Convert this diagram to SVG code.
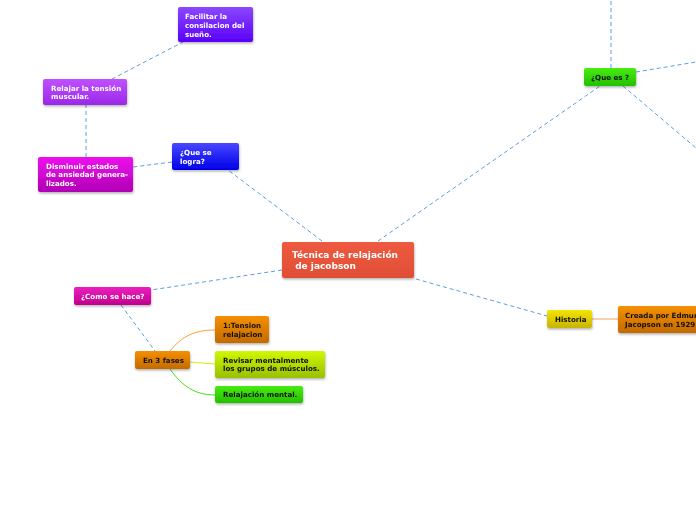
<svg xmlns="http://www.w3.org/2000/svg" width="696" height="520" viewBox="0 0 696 520">
<style>
.t{font-family:"DejaVu Sans",Verdana,sans-serif;font-weight:bold;font-size:7.1px}
.w{fill:#fff}.k{fill:#111}
.c{fill:none;stroke:#5a9ee0;stroke-width:1;stroke-dasharray:4,3}
</style>
<defs>
<filter id="sh" x="-10%" y="-10%" width="130%" height="150%"><feDropShadow dx="0.5" dy="1.5" stdDeviation="1" flood-color="#000" flood-opacity="0.3"/></filter>
<linearGradient id="gRed" x1="0" y1="0" x2="0" y2="1"><stop offset="0" stop-color="#ee5a40"/><stop offset="1" stop-color="#e04e36"/></linearGradient>
<linearGradient id="gBlue" x1="0" y1="0" x2="0" y2="1"><stop offset="0" stop-color="#4848ff"/><stop offset="1" stop-color="#0000e8"/></linearGradient>
<linearGradient id="gViolet" x1="0" y1="0" x2="0" y2="1"><stop offset="0" stop-color="#8a48ff"/><stop offset="1" stop-color="#5a00f8"/></linearGradient>
<linearGradient id="gPurple" x1="0" y1="0" x2="0" y2="1"><stop offset="0" stop-color="#c050ff"/><stop offset="1" stop-color="#9a28e8"/></linearGradient>
<linearGradient id="gMag" x1="0" y1="0" x2="0" y2="1"><stop offset="0" stop-color="#ee10ee"/><stop offset="1" stop-color="#b000b4"/></linearGradient>
<linearGradient id="gPink" x1="0" y1="0" x2="0" y2="1"><stop offset="0" stop-color="#ec20c0"/><stop offset="1" stop-color="#c0008c"/></linearGradient>
<linearGradient id="gOrange" x1="0" y1="0" x2="0" y2="1"><stop offset="0" stop-color="#f49000"/><stop offset="1" stop-color="#c46a00"/></linearGradient>
<linearGradient id="gLime" x1="0" y1="0" x2="0" y2="1"><stop offset="0" stop-color="#d0f800"/><stop offset="1" stop-color="#98c000"/></linearGradient>
<linearGradient id="gGreen" x1="0" y1="0" x2="0" y2="1"><stop offset="0" stop-color="#48ec10"/><stop offset="1" stop-color="#22c000"/></linearGradient>
<linearGradient id="gYellow" x1="0" y1="0" x2="0" y2="1"><stop offset="0" stop-color="#f4e400"/><stop offset="1" stop-color="#c8b400"/></linearGradient>
</defs>
<g id="connectors">
<path class="c" d="M322,241 L228,170"/>
<path class="c" d="M378,241 L600,86"/>
<path class="c" d="M282,270 L151,290"/>
<path class="c" d="M416,279 L547,316"/>
<path class="c" d="M172,162 L133,167"/>
<path class="c" d="M86,157 L86,105"/>
<path class="c" d="M112,79 L183,42"/>
<path class="c" d="M121,305 L155,351"/>
<path class="c" d="M611,68 L611,0"/>
<path class="c" d="M636,72 L696,62"/>
<path class="c" d="M623,86 L696,148"/>
<path d="M592,319 L618,319" fill="none" stroke="#f0a060" stroke-width="1"/>
<path d="M170,351 C182,336 195,330 215,330" fill="none" stroke="#f8a030" stroke-width="1"/>
<path d="M190,362 L215,364" fill="none" stroke="#d8f000" stroke-width="1"/>
<path d="M170,369 C182,386 195,395 215,395" fill="none" stroke="#40e010" stroke-width="1"/>
</g>
<g id="central" filter="url(#sh)"><rect x="282" y="242" width="132" height="36" rx="2" fill="url(#gRed)"/>
<text class="t w" style="font-size:9px"><tspan x="292" y="258">Técnica de relajación</tspan><tspan x="292" y="269"> de jacobson</tspan></text></g>
<g id="que-se-logra" filter="url(#sh)"><rect x="172" y="143" width="67" height="27" rx="2" fill="url(#gBlue)"/>
<text class="t w"><tspan x="180" y="155">¿Que se</tspan><tspan x="180" y="164">logra?</tspan></text></g>
<g id="facilitar" filter="url(#sh)"><rect x="178" y="7" width="75" height="35" rx="2" fill="url(#gViolet)"/>
<text class="t w"><tspan x="185" y="19">Facilitar la</tspan><tspan x="185" y="28">consilacion del</tspan><tspan x="185" y="37">sueño.</tspan></text></g>
<g id="relajar" filter="url(#sh)"><rect x="43" y="79" width="84" height="26" rx="2" fill="url(#gPurple)"/>
<text class="t w"><tspan x="51" y="91">Relajar la tensión</tspan><tspan x="51" y="99">muscular.</tspan></text></g>
<g id="disminuir" filter="url(#sh)"><rect x="38" y="157" width="95" height="35" rx="2" fill="url(#gMag)"/>
<text class="t w"><tspan x="46" y="169">Disminuir estados</tspan><tspan x="46" y="177">de ansiedad genera-</tspan><tspan x="46" y="186">lizados.</tspan></text></g>
<g id="como-se-hace" filter="url(#sh)"><rect x="74" y="287" width="77" height="18" rx="2" fill="url(#gPink)"/>
<text class="t w" x="81" y="299">¿Como se hace?</text></g>
<g id="en-3-fases" filter="url(#sh)"><rect x="135" y="351" width="55" height="18" rx="2" fill="url(#gOrange)"/>
<text class="t k" x="143" y="363">En 3 fases</text></g>
<g id="tension" filter="url(#sh)"><rect x="215" y="316" width="54" height="27" rx="2" fill="url(#gOrange)"/>
<text class="t k"><tspan x="223" y="328">1:Tension</tspan><tspan x="223" y="337">relajacion</tspan></text></g>
<g id="revisar" filter="url(#sh)"><rect x="215" y="351" width="110" height="27" rx="2" fill="url(#gLime)"/>
<text class="t k"><tspan x="223" y="363">Revisar mentalmente</tspan><tspan x="223" y="371">los grupos de músculos.</tspan></text></g>
<g id="relajacion-mental" filter="url(#sh)"><rect x="215" y="386" width="88" height="17" rx="2" fill="url(#gGreen)"/>
<text class="t k" x="223" y="397">Relajación mental.</text></g>
<g id="historia" filter="url(#sh)"><rect x="547" y="310" width="45" height="18" rx="2" fill="url(#gYellow)"/>
<text class="t k" x="555" y="322">Historia</text></g>
<g id="creada" filter="url(#sh)"><rect x="618" y="306" width="90" height="27" rx="2" fill="url(#gOrange)"/>
<text class="t k"><tspan x="625" y="318">Creada por Edmund</tspan><tspan x="625" y="327">Jacopson en 1929</tspan></text></g>
<g id="que-es" filter="url(#sh)"><rect x="584" y="68" width="52" height="18" rx="2" fill="url(#gGreen)"/>
<text class="t k" x="591" y="80">¿Que es ?</text></g>
</svg>
